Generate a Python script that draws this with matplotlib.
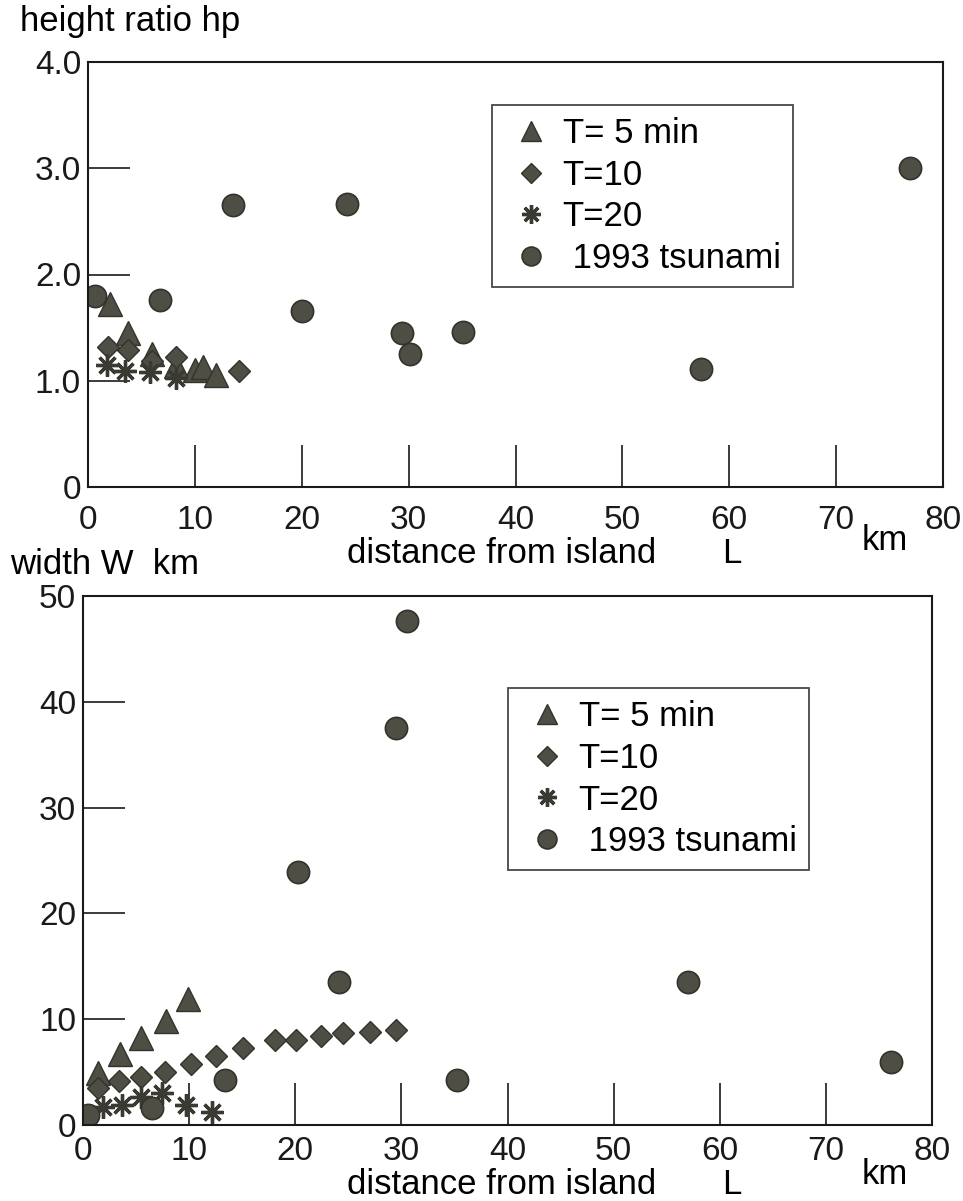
import numpy as np
import matplotlib
matplotlib.use("Agg")
import matplotlib.pyplot as plt

plt.rcParams['font.family'] = ['Liberation Sans', 'DejaVu Sans']

# ---- top panel: height ratio hp vs distance L (km)
t5_h_x = [2.1, 3.7, 6.0, 8.2, 10.0, 10.8, 12.0]
t5_h_y = [1.72, 1.45, 1.25, 1.14, 1.10, 1.13, 1.05]
t10_h_x = [1.9, 3.7, 6.0, 8.2, 14.1]
t10_h_y = [1.32, 1.29, 1.19, 1.22, 1.09]
t20_h_x = [1.8, 3.5, 5.8, 8.2]
t20_h_y = [1.15, 1.09, 1.08, 1.03]
ts_h_x = [0.7, 6.7, 13.6, 24.2, 20.0, 29.4, 30.1, 35.1, 57.4, 76.9]
ts_h_y = [1.80, 1.76, 2.65, 2.66, 1.66, 1.45, 1.25, 1.46, 1.11, 3.00]

# ---- bottom panel: width W (km) vs distance L (km)
t5_w_x = [1.4, 3.5, 5.5, 7.8, 9.9]
t5_w_y = [4.9, 6.7, 8.2, 9.8, 11.9]
t10_w_x = [1.4, 3.4, 5.5, 7.7, 10.2, 12.5, 15.1, 18.1, 20.1, 22.4, 24.5, 27.0, 29.5]
t10_w_y = [3.5, 4.2, 4.5, 5.0, 5.8, 6.5, 7.3, 8.0, 8.0, 8.4, 8.7, 8.8, 9.0]
t20_w_x = [1.9, 3.7, 5.5, 7.4, 9.7, 12.2]
t20_w_y = [1.7, 1.9, 2.6, 3.0, 1.9, 1.2]
ts_w_x = [0.5, 6.5, 13.4, 20.3, 24.1, 29.5, 30.5, 35.2, 57.0, 76.1]
ts_w_y = [0.9, 1.6, 4.3, 23.9, 13.5, 37.5, 47.6, 4.3, 13.5, 6.0]

labels = ['T= 5 min', 'T=10', 'T=20', ' 1993 tsunami']
x_ticks = [0, 10, 20, 30, 40, 50, 60, 70, 80]
h_ticks = [0, 1, 2, 3, 4]
h_ticklabels = ['0', '1.0', '2.0', '3.0', '4.0']
w_ticks = [0, 10, 20, 30, 40, 50]

fill = '#4e4e44'
edge = '#33332c'
fs_tick = 24
fs_text = 25
fs_leg = 25

fig = plt.figure(figsize=(9.63, 12.01), dpi=100)
ax1 = fig.add_axes([88/963, 1-487/1201, 855/963, 425/1201])
ax2 = fig.add_axes([83/963, 1-1125/1201, 849/963, 529/1201])


def draw(ax, series, ylim, yticks, yticklabels, leg_anchor, xpad):
    (x5, y5), (x10, y10), (x20, y20), (xt, yt) = series
    ax.plot(x5, y5, ls='none', marker='^', ms=17, mfc=fill, mec=edge, mew=1, label=labels[0])
    ax.plot(x10, y10, ls='none', marker='D', ms=11.5, mfc=fill, mec=edge, mew=1, label=labels[1])
    ax.plot(x20, y20, ls='none', marker=(8, 2, 0), ms=16, mfc=fill, mec='#3a3a33', mew=2.4, label=labels[2])
    ax.plot(xt, yt, ls='none', marker='o', ms=16, mfc=fill, mec=edge, mew=1.2, label=labels[3])
    ax.set_xlim(0, 80)
    ax.set_ylim(*ylim)
    ax.set_xticks(x_ticks)
    ax.set_yticks(yticks)
    ax.set_yticklabels(yticklabels)
    ax.tick_params(direction='in', length=30, width=1.2, labelsize=fs_tick, colors='#1a1a1a', pad=5)
    ax.tick_params(axis='x', pad=xpad)
    for s in ax.spines.values():
        s.set_linewidth(1.5)
        s.set_color('#1a1a1a')
    leg = ax.legend(loc='upper left', bbox_to_anchor=leg_anchor, fontsize=fs_leg,
                    frameon=True, fancybox=False, edgecolor='#1a1a1a',
                    handlelength=1.6, handletextpad=0.1, labelspacing=0.25,
                    borderpad=0.35, borderaxespad=0, markerscale=0.85)
    leg.get_frame().set_linewidth(1.3)
    return leg


draw(ax1, [(t5_h_x, t5_h_y), (t10_h_x, t10_h_y), (t20_h_x, t20_h_y), (ts_h_x, ts_h_y)],
     (0, 4), h_ticks, h_ticklabels, (0.472, 0.899), 13)
draw(ax2, [(t5_w_x, t5_w_y), (t10_w_x, t10_w_y), (t20_w_x, t20_w_y), (ts_w_x, ts_w_y)],
     (0, 50), w_ticks, [str(v) for v in w_ticks], (0.5, 0.826), 8)

# axis captions placed like the original figure
fig.text(20/963, 1-22/1201, 'height ratio hp', fontsize=fs_text, va='center', ha='left')
fig.text(10/963, 1-565/1201, 'width W  km', fontsize=fs_text, va='center', ha='left')
for yc, yk in [(553, 541), (1185, 1175)]:
    fig.text(502/963, 1-yc/1201, 'distance from island', fontsize=fs_text, va='center', ha='center')
    fig.text(732/963, 1-yc/1201, 'L', fontsize=fs_text, va='center', ha='center')
    fig.text(885/963, 1-yk/1201, 'km', fontsize=fs_text, va='center', ha='center')

fig.savefig('out.png', dpi=100)
